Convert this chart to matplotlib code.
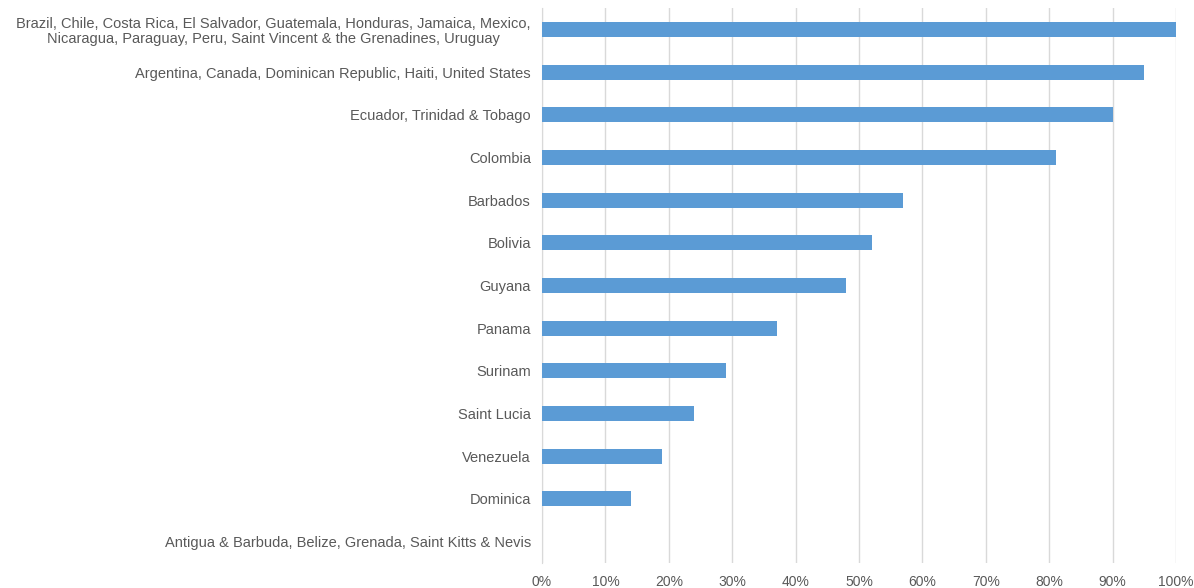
import matplotlib.pyplot as plt
from matplotlib.ticker import PercentFormatter

plt.rcParams['font.family'] = ['Liberation Sans', 'DejaVu Sans']

# categories listed top to bottom
countries = [
    'Brazil, Chile, Costa Rica, El Salvador, Guatemala, Honduras, Jamaica, Mexico,\nNicaragua, Paraguay, Peru, Saint Vincent & the Grenadines, Uruguay',
    'Argentina, Canada, Dominican Republic, Haiti, United States',
    'Ecuador, Trinidad & Tobago',
    'Colombia',
    'Barbados',
    'Bolivia',
    'Guyana',
    'Panama',
    'Surinam',
    'Saint Lucia',
    'Venezuela',
    'Dominica',
    'Antigua & Barbuda, Belize, Grenada, Saint Kitts & Nevis',
]
shares = [100, 95, 90, 81, 57, 52, 48, 37, 29, 24, 19, 14, 0]
xticks = [0, 10, 20, 30, 40, 50, 60, 70, 80, 90, 100]

text_color = '#595959'

fig = plt.figure(figsize=(11.94, 5.88), dpi=100)
ax = fig.add_axes([542 / 1194, 1 - 563 / 588, (1176 - 542) / 1194, (563 - 8) / 588])

ypos = list(range(len(countries)))
ax.barh(ypos, shares, height=0.35, color='#5B9BD5', zorder=3)

ax.set_yticks(ypos)
ax.set_yticklabels(countries, fontsize=10.5, color=text_color, ha='right',
                   multialignment='center', linespacing=1.15)
ax.set_ylim(len(countries) - 0.5, -0.5)

ax.set_xlim(0, 100)
ax.set_xticks(xticks)
ax.xaxis.set_major_formatter(PercentFormatter(decimals=0))
ax.tick_params(axis='x', labelsize=10, colors=text_color, length=0, pad=9)
ax.tick_params(axis='y', length=0, pad=8)

ax.grid(axis='x', color='#D9D9D9', linewidth=1, zorder=0)
for s in ['top', 'right', 'bottom']:
    ax.spines[s].set_visible(False)
ax.spines['left'].set_color('#D9D9D9')

fig.savefig('out.png', dpi=100)
